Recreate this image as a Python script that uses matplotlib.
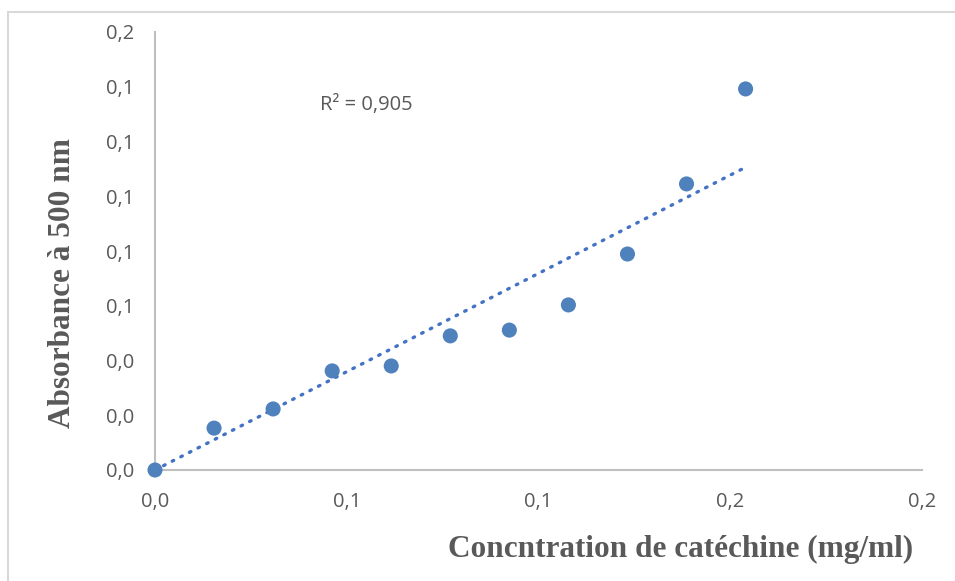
import numpy as np
import matplotlib
matplotlib.use("Agg")
import matplotlib.pyplot as plt
from matplotlib.patches import Rectangle
from matplotlib.ticker import FuncFormatter

conc = [0.0, 0.0154, 0.0308, 0.0462, 0.0616, 0.0770, 0.0924, 0.1078, 0.1232, 0.1386, 0.1540]
absorb = [0.0, 0.0153, 0.0223, 0.0362, 0.0380, 0.0490, 0.0511, 0.0603, 0.0789, 0.1045, 0.1392]
r2_label = "R² = 0,905"
xlabel = "Concntration de catéchine (mg/ml)"
ylabel = "Absorbance à 500 nm"

W, H = 955, 581
fig = plt.figure(figsize=(W/100, H/100), dpi=100)
ax = fig.add_axes([155/W, 1-470/H, (922-155)/W, (470-32)/H])

x = np.array(conc); y = np.array(absorb)
slope = np.sum(x*y)/np.sum(x*x)
xt = np.array([0, x.max()])
ax.plot(xt, slope*xt, color="#4472C4", lw=2.4, linestyle=(0, (0.5, 2.4)), dash_capstyle="round", zorder=2)
ax.scatter(x, y, s=118, color="#4F81BD", edgecolors="none", zorder=3, clip_on=False)

ax.set_xlim(0, 0.2)
ax.set_ylim(0, 0.16)
ax.set_xticks(np.arange(0, 0.2001, 0.05))
ax.set_yticks(np.arange(0, 0.1601, 0.02))
fmt = FuncFormatter(lambda v, p: f"{v:.1f}".replace(".", ","))
ax.xaxis.set_major_formatter(fmt)
ax.yaxis.set_major_formatter(fmt)
for s in ["top", "right"]:
    ax.spines[s].set_visible(False)
for s in ["left", "bottom"]:
    ax.spines[s].set_color("#BFBFBF")
    ax.spines[s].set_linewidth(1.5)
ax.tick_params(length=0, labelsize=14.5, colors="#595959")
ax.tick_params(axis="y", pad=15)
ax.tick_params(axis="x", pad=16)
for lab in ax.get_xticklabels() + ax.get_yticklabels():
    lab.set_fontfamily("Open Sans")

fig.text(320/W, 1-105/H, r2_label, fontsize=14.5, color="#595959", family="Open Sans", va="center")
fig.text(681/W, 1-549/H, xlabel, fontsize=22.5, color="#595959", family="Liberation Serif",
         weight="bold", ha="center", va="center")
fig.text(62/W, 1-283/H, ylabel, fontsize=22.5, color="#595959", family="Liberation Serif",
         weight="bold", ha="center", va="center", rotation=90)

fig.patches.append(Rectangle((8/W, 1-600/H), (980-8)/W, (600-12)/H, transform=fig.transFigure,
                             fill=False, edgecolor="#D9D9D9", lw=1.5))
fig.savefig("out.png", dpi=100)
